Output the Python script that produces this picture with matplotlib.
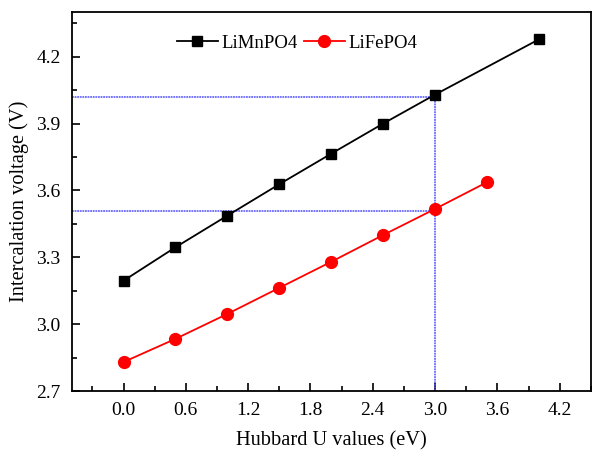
import matplotlib.pyplot as plt
from matplotlib.ticker import MultipleLocator

# Data
u_mn = [0.0, 0.5, 1.0, 1.5, 2.0, 2.5, 3.0, 4.0]
v_mn = [3.195, 3.345, 3.487, 3.628, 3.765, 3.900, 4.030, 4.278]
u_fe = [0.0, 0.5, 1.0, 1.5, 2.0, 2.5, 3.0, 3.5]
v_fe = [2.830, 2.934, 3.046, 3.163, 3.280, 3.400, 3.517, 3.637]

# guide lines
u_guide = 3.0
v_guide_mn = 4.02
v_guide_fe = 3.51

plt.rcParams["font.family"] = ["Liberation Serif", "DejaVu Serif"]

fig = plt.figure(figsize=(5.92, 4.51), dpi=100)
ax = fig.add_axes([0.121, 0.133, 0.877, 0.840])

# blue dotted guides
guide = dict(color="#5050ff", lw=1.1, ls=(0, (1.2, 0.5)))
ax.plot([-0.5, u_guide], [v_guide_mn, v_guide_mn], **guide)
ax.plot([-0.5, u_guide], [v_guide_fe, v_guide_fe], **guide)
ax.plot([u_guide, u_guide], [2.7, v_guide_mn], **guide)

ax.plot(u_mn, v_mn, color="black", marker="s", ms=7.5, lw=1.3, label="LiMnPO4")
ax.plot(u_fe, v_fe, color="red", marker="o", ms=8.5, lw=1.3, label="LiFePO4")

ax.set_xlim(-0.5, 4.5)
ax.set_ylim(2.7, 4.4)
ax.xaxis.set_minor_locator(MultipleLocator(0.3))
ax.yaxis.set_major_locator(MultipleLocator(0.3))
ax.yaxis.set_minor_locator(MultipleLocator(0.15))
ax.set_xticks([0.0, 0.6, 1.2, 1.8, 2.4, 3.0, 3.6, 4.2])
ax.tick_params(which="both", direction="in", top=False, right=False, labelsize=14, width=1.2)
ax.tick_params(which="major", length=6, pad=8)
ax.tick_params(which="minor", length=3.5)
for s in ax.spines.values():
    s.set_linewidth(1.3)

ax.set_xlabel("Hubbard U values (eV)", fontsize=14.7, labelpad=9)
ax.set_ylabel("Intercalation voltage (V)", fontsize=14.7, labelpad=5)

ax.legend(loc="upper left", bbox_to_anchor=(0.17, 0.985), ncol=2, frameon=False,
          fontsize=13.5, handlelength=2.2, handletextpad=0.2, columnspacing=0.3)

fig.savefig("out.png", dpi=100)
